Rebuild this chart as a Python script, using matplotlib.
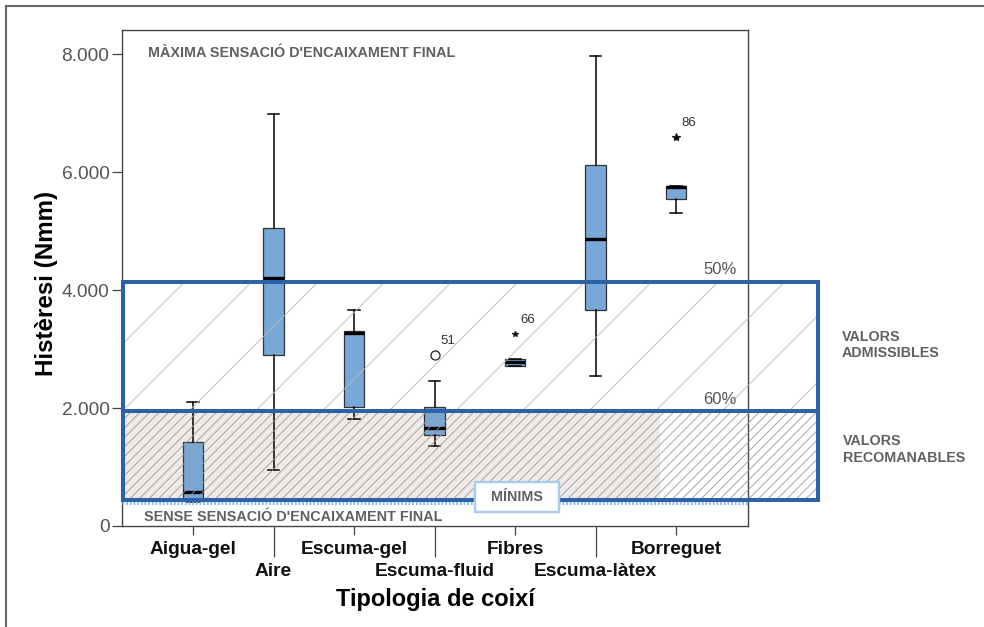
import matplotlib
matplotlib.use("Agg")
import matplotlib.pyplot as plt
from matplotlib.patches import Rectangle
from matplotlib.lines import Line2D

# drawn at 200 dpi so that the '/' hatch gets the wide spacing of the original,
# so every size in points is multiplied by K
K = 0.5
plt.rcParams['font.family'] = ['Liberation Sans', 'DejaVu Sans']
plt.rcParams['hatch.linewidth'] = 0.3

# ---- data ----
cats = ["Aigua-gel", "Aire", "Escuma-gel", "Escuma-fluid", "Fibres",
        "Escuma-làtex", "Borreguet"]
whislo = [400, 950, 1820, 1360, 2720, 2540, 5300]
q1 = [450, 2900, 2020, 1540, 2720, 3665, 5545]
med = [570, 4210, 3265, 1655, 2780, 4865, 5740]
q3 = [1430, 5045, 3310, 2020, 2830, 6115, 5770]
whishi = [2105, 6985, 3660, 2465, 2830, 7965, 5770]

out_pos = [4, 5, 7]
out_val = [2900, 3250, 6590]
out_lab = ["51", "66", "86"]

yticks = [0, 2000, 4000, 6000, 8000]
ytick_lab = ["0", "2.000", "4.000", "6.000", "8.000"]

lim50 = 4130
lim60 = 1950
lim_min = 440

# ---- layout ----
W, H = 984, 627
def fx(px):
    return px / W
def fy(py):
    return 1 - py / H

out_marker = ["o", "*", "*"]
out_size = [6.5 * K, 4 * K, 6 * K]

x_left = 0.13     # overlay rectangle, data x units
x_right = 8.76
x_fill = 6.80
box_col = '#78A8D8'
blue = '#2E62A6'
grey_txt = '#606060'

fig = plt.figure(figsize=(W / 200, H / 200), dpi=200)
ax = fig.add_axes([fx(122), 1 - 526 / H, (748 - 122) / W, (526 - 30) / H])

stats = []
for i in range(len(cats)):
    stats.append(dict(label=cats[i], whislo=whislo[i], q1=q1[i], med=med[i],
                      q3=q3[i], whishi=whishi[i], fliers=[]))
pos = list(range(1, len(cats) + 1))
ax.bxp(stats, positions=pos, widths=0.25, capwidths=0.14, patch_artist=True,
       showfliers=False,
       boxprops=dict(facecolor=box_col, edgecolor='#333333', linewidth=0.9 * K),
       medianprops=dict(color='black', linewidth=2.4 * K),
       whiskerprops=dict(color='black', linewidth=1.1 * K),
       capprops=dict(color='black', linewidth=1.1 * K),
       manage_ticks=False, zorder=2)

for p, v, m, s, lab in zip(out_pos, out_val, out_marker, out_size, out_lab):
    ax.plot(p, v, marker=m, ms=s, mfc='none' if m == 'o' else 'black',
            mec='#222222', mew=0.9 * K, zorder=2)
    ax.annotate(lab, (p, v), xytext=(4 * K, 6 * K), textcoords='offset points',
                fontsize=9.5 * K, color='#333333', va='bottom', ha='left')

# ---- overlay zones ----
ax.add_patch(Rectangle((x_left, lim60), x_right - x_left, lim50 - lim60,
                       facecolor='none', edgecolor='#b8b8b8', hatch='/', lw=0,
                       clip_on=False, zorder=3))
ax.add_patch(Rectangle((x_left, lim_min), x_fill - x_left, lim60 - lim_min,
                       facecolor='#eeeae7', lw=0, clip_on=False, zorder=1))
ax.add_patch(Rectangle((x_left, lim_min), x_right - x_left, lim60 - lim_min,
                       facecolor='none', edgecolor='#9a9a9a', hatch='///////', lw=0,
                       clip_on=False, zorder=3))
ax.plot([0.118, 7.894], [lim_min - 50, lim_min - 50], ls=(0, (0.6, 0.6)),
        color='#8fbbe6', lw=2.2 * K, clip_on=False, zorder=4)
ax.add_patch(Rectangle((x_left, lim_min), x_right - x_left, lim50 - lim_min,
                       fill=False, edgecolor=blue, lw=2.9 * K, clip_on=False,
                       zorder=5, joinstyle='miter'))
ax.plot([x_left, x_right], [lim60, lim60], color=blue, lw=2.9 * K,
        clip_on=False, zorder=5, solid_capstyle='butt')

ax.add_patch(Rectangle((4.503, 237), 1.044, 509, facecolor='white',
                       edgecolor='#a9cdee', lw=1.7 * K, clip_on=False, zorder=6))
ax.text(5.025, 492, "MÍNIMS", ha='center', va='center', fontsize=10.3 * K,
        fontweight='bold', color=grey_txt, zorder=7)

# ---- axes ----
ax.set_xlim(0.118, 7.894)
ax.set_ylim(0, 8407)
ax.set_yticks(yticks, ytick_lab)
ax.tick_params(axis='y', length=7 * K, width=0.9 * K, color='#444444',
               labelsize=13.8 * K, labelcolor='#555555', pad=2 * K)

ax.set_xticks(pos[0::2], cats[0::2])
ax.set_xticks(pos[1::2], cats[1::2], minor=True)
ax.tick_params(axis='x', which='major', length=6.5 * K, width=0.9 * K,
               color='#444444', labelsize=13.8 * K, pad=4.5 * K)
ax.tick_params(axis='x', which='minor', length=22.3 * K, width=0.9 * K,
               color='#444444', labelsize=13.8 * K, pad=4 * K)
for t in ax.get_xticklabels(which='both'):
    t.set_fontweight('bold')
    t.set_color('#111111')

for s in ax.spines.values():
    s.set_color('#444444')
    s.set_linewidth(1.0 * K)

ax.set_ylabel("Histèresi (Nmm)", fontsize=17.4 * K, fontweight='bold', va='center')
ax.yaxis.set_label_coords(-0.12, 0.49)
ax.set_xlabel("Tipologia de coixí", fontsize=17 * K, fontweight='bold', va='center')
ax.xaxis.set_label_coords(0.5, -0.149)

# ---- captions ----
fig.text(fx(148), fy(53), "MÀXIMA SENSACIÓ D'ENCAIXAMENT FINAL", fontsize=10.4 * K,
         fontweight='bold', color=grey_txt, va='center')
fig.text(fx(144), fy(517), "SENSE SENSACIÓ D'ENCAIXAMENT FINAL", fontsize=10.4 * K,
         fontweight='bold', color=grey_txt, va='center', zorder=7)
fig.text(fx(703), fy(270), "50%", fontsize=12 * K, color='#555555', va='center')
fig.text(fx(703), fy(399), "60%", fontsize=12 * K, color='#555555', va='center')
fig.text(fx(842), fy(337), "VALORS", fontsize=10.3 * K, fontweight='bold',
         color=grey_txt, va='center')
fig.text(fx(842), fy(353), "ADMISSIBLES", fontsize=10.3 * K, fontweight='bold',
         color=grey_txt, va='center')
fig.text(fx(843), fy(441), "VALORS", fontsize=10.3 * K, fontweight='bold',
         color=grey_txt, va='center')
fig.text(fx(843), fy(458), "RECOMANABLES", fontsize=10.3 * K, fontweight='bold',
         color=grey_txt, va='center')

# frame of the original image
fig.add_artist(Line2D([fx(6), fx(6)], [0, fy(6)], color='#666666', lw=1.5 * K,
                      transform=fig.transFigure))
fig.add_artist(Line2D([fx(6), 1], [fy(6), fy(6)], color='#666666', lw=1.5 * K,
                      transform=fig.transFigure))

fig.savefig("out.png", dpi=200)
